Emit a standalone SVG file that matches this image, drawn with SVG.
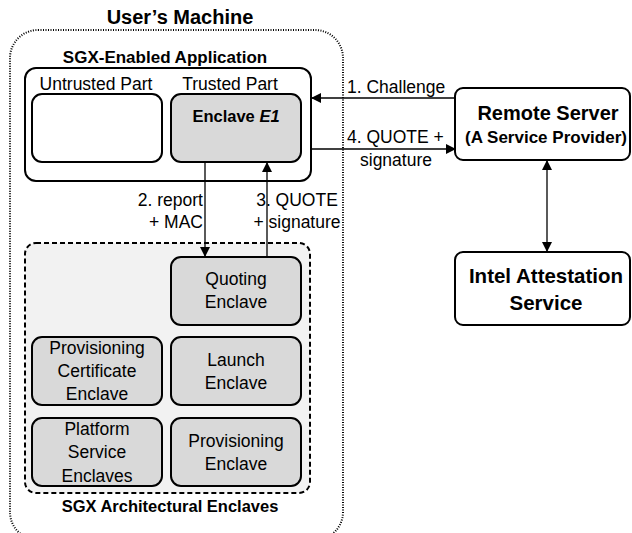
<svg xmlns="http://www.w3.org/2000/svg" width="632" height="533" viewBox="0 0 632 533">
<style>
text{font-family:"Liberation Sans",Arial,sans-serif;fill:#000}
.b{font-weight:bold}
.c{text-anchor:middle}
.n{font-size:17.5px}
.box{fill:#fff;stroke:#000;stroke-width:2}
.enc{fill:#d9d9d9;stroke:#000;stroke-width:2}
.ln{stroke:#000;stroke-width:1.3;fill:none}
</style>
<defs>
<marker id="ah" markerWidth="10" markerHeight="10" refX="9" refY="5" orient="auto" markerUnits="userSpaceOnUse">
<path d="M0,0 L10,5 L0,10 Z" fill="#000"/>
</marker>
</defs>
<rect width="632" height="533" fill="#fff"/>

<g id="users-machine">
<rect x="10" y="30" width="333" height="510" rx="28" fill="none" stroke="#000" stroke-width="2" stroke-dasharray="1 1.5"/>
<text class="b c" x="180" y="24" font-size="20">User’s Machine</text>
</g>

<g id="sgx-app">
<text class="b c" x="165" y="63" font-size="17">SGX-Enabled Application</text>
<rect class="box" x="25" y="68" width="286" height="113" rx="11"/>
</g>

<g id="untrusted">
<text class="c n" x="96" y="90">Untrusted Part</text>
<rect class="box" x="32" y="94" width="130" height="68" rx="10"/>
</g>

<g id="enclave-e1">
<text class="c n" x="230" y="90">Trusted Part</text>
<rect class="enc" x="171" y="94" width="130" height="68" rx="10"/>
<text class="b c" x="236" y="122" font-size="16.5">Enclave <tspan font-style="italic">E1</tspan></text>
</g>

<g id="arch-enclaves">
<rect x="25" y="243" width="285" height="250" rx="11" fill="#f2f2f2" stroke="#000" stroke-width="2" stroke-dasharray="5 3"/>
<text class="b c" x="170" y="512" font-size="16.5">SGX Architectural Enclaves</text>
</g>

<g id="quoting">
<rect class="enc" x="171" y="257" width="130" height="68" rx="10"/>
<text class="c n" x="236" y="285">Quoting</text>
<text class="c n" x="236" y="308">Enclave</text>
</g>

<g id="launch">
<rect class="enc" x="171" y="337" width="130" height="68" rx="10"/>
<text class="c n" x="236" y="366">Launch</text>
<text class="c n" x="236" y="389">Enclave</text>
</g>

<g id="provisioning">
<rect class="enc" x="171" y="418" width="130" height="68" rx="10"/>
<text class="c n" x="236" y="447">Provisioning</text>
<text class="c n" x="236" y="470">Enclave</text>
</g>

<g id="prov-cert">
<rect class="enc" x="32" y="337" width="130" height="68" rx="10"/>
<text class="c n" x="97" y="354">Provisioning</text>
<text class="c n" x="97" y="377">Certificate</text>
<text class="c n" x="97" y="400">Enclave</text>
</g>

<g id="platform-service">
<rect class="enc" x="32" y="418" width="130" height="68" rx="10"/>
<text class="c n" x="97" y="435">Platform</text>
<text class="c n" x="97" y="458">Service</text>
<text class="c n" x="97" y="482">Enclaves</text>
</g>

<g id="remote-server">
<rect class="box" x="455" y="88" width="175" height="72" rx="8"/>
<text class="b c" x="548" y="120" font-size="20">Remote Server</text>
<text class="b c" x="546" y="143" font-size="17">(A Service Provider)</text>
</g>

<g id="intel-ias">
<rect class="box" x="455" y="252" width="175" height="73" rx="8"/>
<text class="b c" x="546" y="283" font-size="20.5">Intel Attestation</text>
<text class="b c" x="546" y="310" font-size="20.5">Service</text>
</g>

<g id="connectors">
<line class="ln" x1="455" y1="98" x2="312" y2="98" marker-end="url(#ah)"/>
<line class="ln" x1="312" y1="149" x2="455" y2="149" marker-end="url(#ah)"/>
<line class="ln" x1="205" y1="162" x2="205" y2="256" marker-end="url(#ah)"/>
<line class="ln" x1="267" y1="257" x2="267" y2="163" marker-end="url(#ah)"/>
<line class="ln" x1="547" y1="190" x2="547" y2="161" marker-end="url(#ah)"/>
<line class="ln" x1="547" y1="190" x2="547" y2="251" marker-end="url(#ah)"/>
<text class="n" x="347" y="93">1. Challenge</text>
<text class="n" x="347" y="143">4. QUOTE +</text>
<text class="c n" x="396" y="166">signature</text>
<text class="n" x="203" y="206" text-anchor="end">2. report</text>
<text class="n" x="203" y="228" text-anchor="end">+ MAC</text>
<text class="c n" x="297" y="206">3. QUOTE</text>
<text class="c n" x="297" y="228">+ signature</text>
</g>
</svg>
